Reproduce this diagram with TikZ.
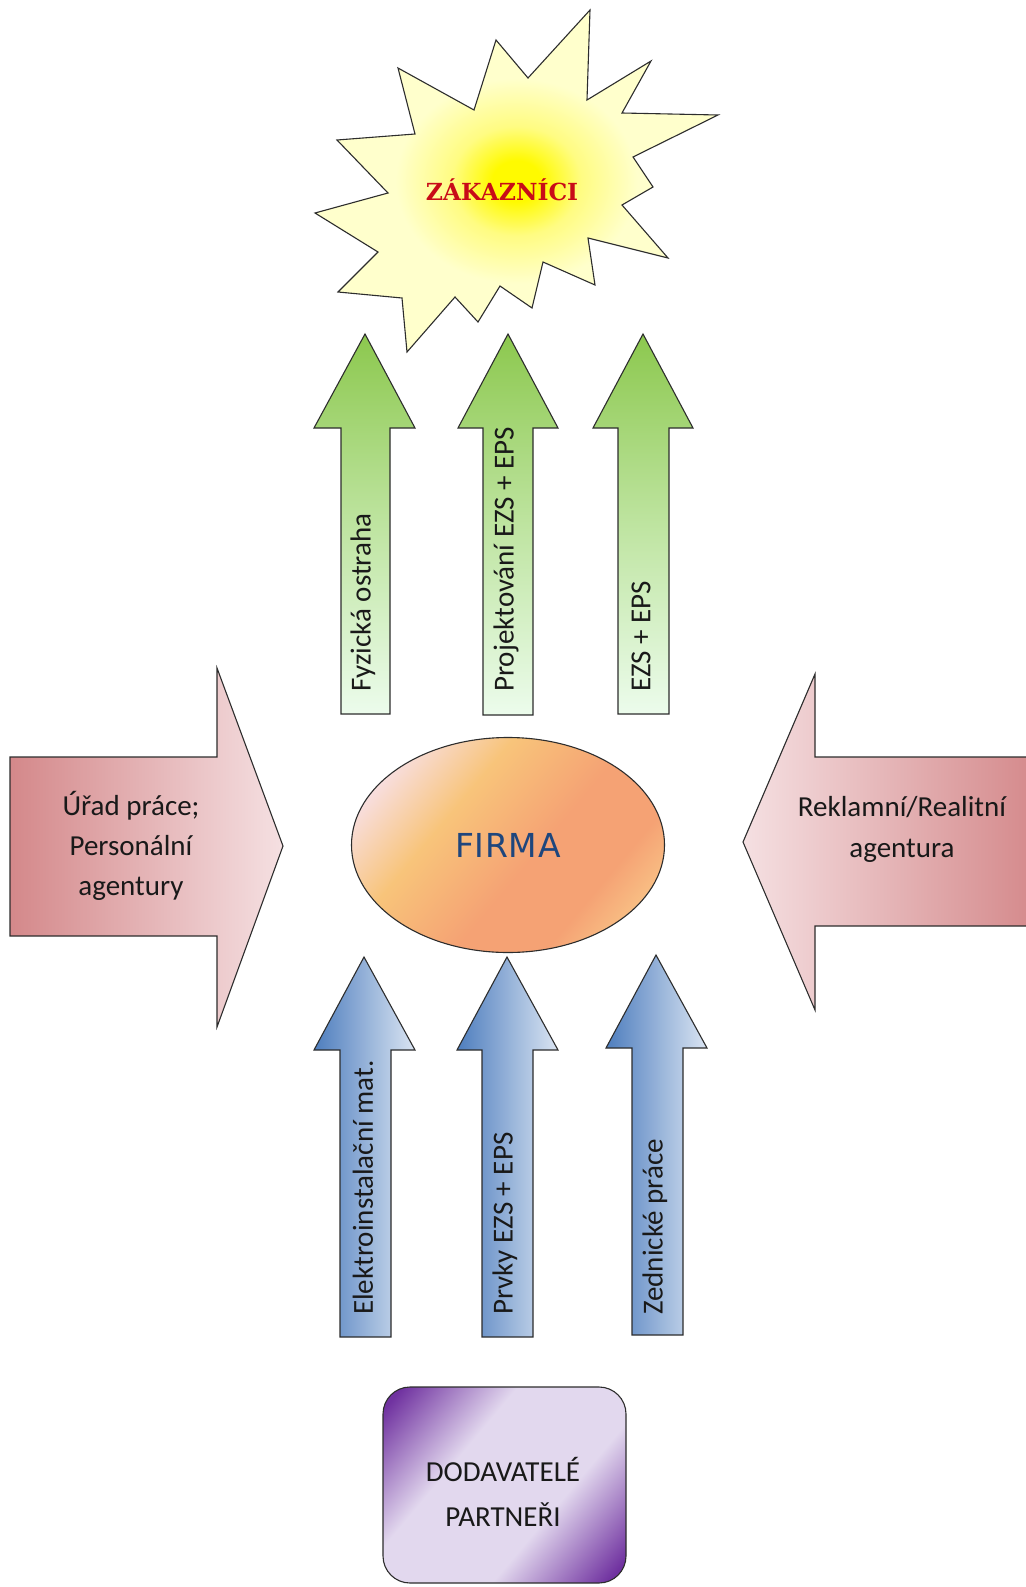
\documentclass[tikz,border=0pt]{standalone}
\usepackage{fontspec}
\setmainfont{Carlito}
\newfontfamily\firmafont{DejaVu Sans}[LetterSpace=2]
\newfontfamily\starfont{DejaVu Serif}
\usetikzlibrary{shapes.geometric}
\definecolor{edgecol}{RGB}{45,45,45}
\definecolor{txtcol}{RGB}{25,25,25}
\definecolor{reddark}{RGB}{212,136,138}
\definecolor{redlight}{RGB}{245,224,226}
\definecolor{greentop}{RGB}{140,200,78}
\definecolor{greenmid}{RGB}{190,228,160}
\definecolor{greenbot}{RGB}{236,252,236}
\definecolor{bluedark}{RGB}{78,126,190}
\definecolor{bluelight}{RGB}{218,228,242}
\definecolor{staryel}{RGB}{255,250,0}
\definecolor{starmid}{RGB}{255,252,130}
\definecolor{starpale}{RGB}{255,255,204}
\definecolor{starred}{RGB}{200,12,24}
\definecolor{fpink}{RGB}{248,226,238}
\definecolor{forange}{RGB}{248,196,122}
\definecolor{fsalmon}{RGB}{245,162,116}
\definecolor{forange2}{RGB}{250,205,140}
\definecolor{firmablue}{RGB}{30,70,125}
\definecolor{pdark}{RGB}{112,50,160}
\definecolor{plight}{RGB}{226,216,238}
\pgfdeclarehorizontalshading{firmashade}{100bp}{color(0bp)=(fpink); color(22bp)=(fpink); color(38bp)=(forange); color(55bp)=(fsalmon); color(68bp)=(fsalmon); color(80bp)=(forange2); color(100bp)=(forange2)}
\pgfdeclarehorizontalshading{purpshade}{100bp}{color(0bp)=(pdark); color(18bp)=(pdark); color(38bp)=(plight); color(62bp)=(plight); color(82bp)=(pdark); color(100bp)=(pdark)}
\pgfdeclareradialshading{starshade}{\pgfpoint{0bp}{0bp}}{color(0bp)=(staryel); color(3bp)=(staryel); color(8bp)=(starmid); color(15bp)=(starpale); color(50bp)=(starpale)}
\tikzset{
  shapeline/.style={draw=edgecol, line width=1.1pt, line join=miter},
  greenarrow/.style={shapeline, top color=greentop, bottom color=greenbot, middle color=greenmid},
  bluearrow/.style={shapeline, left color=bluedark, right color=bluelight},
  redright/.style={shapeline, left color=reddark, right color=redlight},
  redleft/.style={shapeline, left color=redlight, right color=reddark},
  vtext/.style={rotate=90, anchor=west, inner sep=0pt, text=txtcol, font=\fontsize{29}{34}\selectfont},
  htext/.style={align=center, inner sep=0pt, text=txtcol},
}
\begin{document}
\begin{tikzpicture}[x=1pt, y=-1pt]
\useasboundingbox[fill=white] (0,0) rectangle (1025,1587);

% star
\path[shapeline, shading=starshade]
  (398,68) -- (474,110) -- (496,40) -- (528,78) -- (590,10) -- (587,100) -- (651,61) -- (622,113)
  -- (718,115) -- (633,157) -- (653,187) -- (622,205) -- (668,258) -- (588,238) -- (595,285)
  -- (543,262) -- (532,308) -- (500,286) -- (478,322) -- (455,297) -- (407,352) -- (402,298)
  -- (338,292) -- (378,252) -- (315,213) -- (388,193) -- (337,140) -- (415,134) -- cycle;
\node (zak) at (502,190) [inner sep=0pt, text=starred, font=\starfont\bfseries\fontsize{23.5}{28}\selectfont] {ZÁKAZNÍCI};

% green arrows
\path[greenarrow] (341,714) -- (341,428) -- (314,428) -- (365,334) -- (415,428) -- (390,428) -- (390,714) -- cycle;
\path[greenarrow] (483,715) -- (483,428) -- (458,428) -- (508,334) -- (558,428) -- (533,428) -- (533,715) -- cycle;
\path[greenarrow] (618,714) -- (618,428) -- (593,428) -- (643,334) -- (693,428) -- (669,428) -- (669,714) -- cycle;
\node (g1) at (363,692) [vtext] {Fyzická ostraha};
\node (g2) at (506,692) [vtext] {Projektování EZS + EPS};
\node (g3) at (641,692) [vtext] {EZS + EPS};

% side arrows
\path[redright] (10,757) -- (217,757) -- (217,668) -- (283,846) -- (217,1027) -- (217,936) -- (10,936) -- cycle;
\path[redleft] (1040,757) -- (815,757) -- (815,674) -- (743,842) -- (815,1010) -- (815,926) -- (1040,926);
\node (left) at (131,846) [htext, font=\fontsize{29}{40}\selectfont] {Úřad práce;\\Personální\\agentury};
\node (right) at (902,829) [htext, font=\fontsize{29}{41}\selectfont] {Reklamní/Realitní\\agentura};

% firm
\node (firma) at (508,845) [ellipse, shapeline, minimum width=313pt, minimum height=215pt, inner sep=0pt,
  shading=firmashade, shading angle=-40] {};
\node (firmatext) at (firma.center) [text=firmablue, font=\firmafont\fontsize{33}{38}\selectfont] {FIRMA};

% blue arrows
\path[bluearrow] (340,1337) -- (340,1050) -- (314,1050) -- (364,957) -- (415,1050) -- (391,1050) -- (391,1337) -- cycle;
\path[bluearrow] (482,1337) -- (482,1050) -- (457,1050) -- (507,957) -- (558,1050) -- (533,1050) -- (533,1337) -- cycle;
\path[bluearrow] (632,1335) -- (632,1048) -- (606,1048) -- (656,955) -- (707,1048) -- (683,1048) -- (683,1335) -- cycle;
\node (b1) at (363,1315) [vtext] {Elektroinstalační mat.};
\node (b2) at (505,1315) [vtext] {Prvky EZS + EPS};
\node (b3) at (655,1315) [vtext] {Zednické práce};

% suppliers
\node (dod) at (504.5,1485) [shapeline, rounded corners=27pt, minimum width=243pt, minimum height=196pt,
  shading=purpshade, shading angle=-40] {};
\node (dodtext) at (503,1492) [htext, font=\fontsize{29}{45}\selectfont] {DODAVATELÉ\\PARTNEŘI};
\end{tikzpicture}
\end{document}
